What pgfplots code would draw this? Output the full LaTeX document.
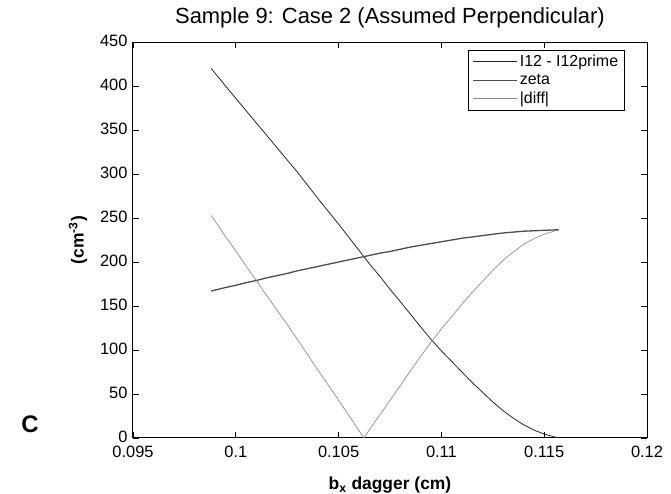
\documentclass[border=0pt]{standalone}
\usepackage{fontspec}
\setmainfont{Liberation Sans}
\usepackage{pgfplots}
\pgfplotsset{compat=1.18}

% x, I12 - I12prime, zeta, |diff|
\pgfplotstableread{
x       a      z      d
0.0988  420    167    253
0.0995  400    171    229
0.1000  386    173.5  212.5
0.1005  372    176.5  195.5
0.1010  358    179    179
0.1015  344    182    162
0.1020  330    184.5  145.5
0.1025  316    187    129
0.1030  302    190    112
0.1035  287    192.5  94.5
0.1040  272    195    77
0.1045  257.5  197.5  60
0.1050  243    200    43
0.1055  228    202.5  25.5
0.1060  213    205    8
0.10623 206    206    0
0.1065  198    207.5  9.5
0.1070  184    210    26
0.1075  169    212    43
0.1080  155    214.5  59.5
0.1085  140.5  217    76.5
0.1090  126    219    93
0.1095  112    221    109
0.1100  99     223    124
0.1105  87     225    138
0.1110  75     227    152
0.1115  63     228.5  165.5
0.1120  52     230    178
0.1125  41     231.5  190.5
0.1130  31     233    202
0.1135  22.5   234    211.5
0.1140  15     235    220
0.1145  9      235.5  226.5
0.1150  4.5    236    231.5
0.1155  1.2    236.5  235.3
0.1157  0.3    236.5  236.2
}\datatable

\begin{document}
\begin{tikzpicture}
\begin{axis}[
  at={(0,0)}, anchor=south west,
  scale only axis, width=514bp, height=396bp,
  xmin=0.095, xmax=0.12, ymin=0, ymax=450,
  xtick={0.095,0.1,0.105,0.11,0.115,0.12},
  xticklabels={0.095,0.1,0.105,0.11,0.115,0.12},
  ytick={0,50,100,150,200,250,300,350,400,450},
  yticklabels={0,50,100,150,200,250,300,350,400,450},
  tick align=inside, major tick length=6bp,
  tick style={black, line width=0.8bp},
  axis line style={black, line width=1bp},
  ticklabel style={font=\fontsize{16.5}{19}\selectfont},
  xticklabel style={yshift=-5bp},
  yticklabel style={xshift=-2bp, yshift=1bp},
  title={Sample 9: Case 2 (Assumed Perpendicular)},
  title style={at={(axis description cs:0.5,1)}, anchor=base, yshift=13bp, font=\fontsize{22}{26}\selectfont},
  xlabel={\textbf{b\textsubscript{x} dagger (cm)}},
  xlabel style={at={(axis description cs:0.5,-0.12)}, anchor=center, font=\fontsize{17.5}{20}\selectfont},
  ylabel={\textbf{(cm\textsuperscript{-3})}},
  ylabel style={at={(axis description cs:-0.107,0.5)}, anchor=center, font=\fontsize{17.5}{20}\selectfont},
  legend style={at={(axis description cs:0.652,0.98)}, anchor=north west, draw=black, line width=0.8bp,
    fill=white, font=\fontsize{16}{19}\selectfont, row sep=2bp, inner xsep=4bp, inner ysep=3bp},
  legend cell align=left,
  legend image code/.code={\draw[#1] (0bp,0bp) -- (44bp,0bp);},
]
\addplot[black!85, line width=0.8bp] table[x=x, y=a] {\datatable};
\addlegendentry{I12 - I12prime}
\addplot[black!70, line width=1.3bp] table[x=x, y=z] {\datatable};
\addlegendentry{zeta}
\addplot[black!45, line width=0.7bp] table[x=x, y=d] {\datatable};
\addlegendentry{|diff|}
\end{axis}
\node[font=\bfseries\fontsize{24}{28}\selectfont] at (-103bp,14bp) {C};
\pgfresetboundingbox
\path[use as bounding box] (-133bp,-56bp) rectangle (538bp,438bp);
\end{tikzpicture}
\end{document}
